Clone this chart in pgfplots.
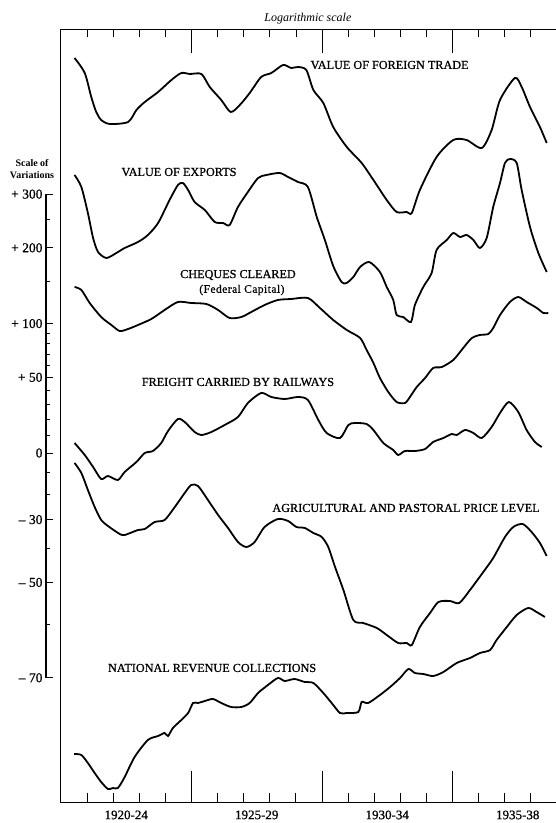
\documentclass[border=0pt]{standalone}
\usepackage{pgfplots}
\pgfplotsset{compat=1.18}
\usepackage{fontspec}
\setmainfont{Liberation Serif}

\newcommand\lab{\fontsize{12.2}{14}\selectfont\addfontfeature{FakeBold=0.8}}

\begin{document}
\begin{tikzpicture}
% page = reference frame: left border of the chart at x=0, bottom at y=0
\useasboundingbox (-61pt,-21pt) rectangle (494pt,802pt);

\begin{axis}[
  scale only axis, width=522pt, height=772pt,
  xmin=1920, xmax=1940, ymin=-349, ymax=423,
  clip=false,
  axis line style={line width=1pt},
  ytick=\empty,
  xtick pos=bottom,
  xtick={1925,1930,1935}, xticklabels={,,},
  minor xtick={1921,1922,1923,1924,1926,1927,1928,1929,1931,1932,1933,1934,1936,1937,1938,1939},
  tick align=inside,
  major tick length=31pt, minor tick length=9pt,
  every tick/.style={black, line width=0.8pt},
  extra x ticks={1922.5,1927.5,1932.5,1937.5},
  extra x tick labels={1920-24,1925-29,1930-34,1935-38},
  extra x tick style={major tick length=0pt},
  xticklabel style={font=\fontsize{13}{15}\selectfont\addfontfeature{FakeBold=0.8}, yshift=-5pt},
  curve/.style={black, line width=1.8pt, mark=none, smooth, tension=0.45},
]
% Value of foreign trade
\addplot[curve] coordinates {(1920.52,395) (1920.91,380) (1921.16,356) (1921.35,341) (1921.54,333) (1921.87,329) (1922.57,331) (1922.89,343) (1923.21,351) (1923.72,361) (1924.23,373) (1924.61,380) (1924.93,379) (1925.38,379) (1925.70,366) (1926.14,353) (1926.50,341) (1926.85,348) (1927.23,360) (1927.67,376) (1928.06,380) (1928.51,388) (1928.82,385) (1929.08,386) (1929.40,383) (1929.67,363) (1930.05,350) (1930.43,326) (1930.95,306) (1931.52,290) (1931.97,273) (1932.48,253) (1932.86,241) (1933.25,241) (1933.44,240) (1933.75,263) (1934.39,296) (1935.03,313) (1935.54,313) (1936.12,305) (1936.50,323) (1936.82,353) (1937.39,375) (1937.65,366) (1937.97,346) (1938.35,326) (1938.61,310)};
% Value of exports
\addplot[curve] coordinates {(1920.52,278) (1920.78,266) (1921.03,240) (1921.23,215) (1921.42,201) (1921.74,195) (1922.12,200) (1922.44,205) (1922.95,211) (1923.33,218) (1923.72,230) (1924.16,253) (1924.48,268) (1924.67,270) (1924.87,263) (1925.12,251) (1925.51,243) (1925.89,231) (1926.21,230) (1926.46,228) (1926.78,246) (1927.16,261) (1927.55,275) (1927.87,278) (1928.38,280) (1928.70,276) (1929.08,271) (1929.46,266) (1929.80,236) (1930.11,213) (1930.43,187) (1930.75,171) (1930.94,170) (1931.20,176) (1931.46,186) (1931.81,191) (1932.22,181) (1932.48,166) (1932.73,153) (1932.86,138) (1933.11,136) (1933.41,131) (1933.56,148) (1933.88,166) (1934.20,180) (1934.39,203) (1934.78,213) (1935.03,220) (1935.29,216) (1935.54,218) (1935.80,213) (1936.05,205) (1936.31,215) (1936.56,246) (1936.82,270) (1937.01,290) (1937.20,294) (1937.46,290) (1937.65,263) (1937.97,226) (1938.29,200) (1938.61,181)};
% Cheques cleared (Federal Capital)
\addplot[curve] coordinates {(1920.52,166) (1920.78,163) (1921.10,150) (1921.54,136) (1921.93,128) (1922.25,122) (1922.57,124) (1922.95,128) (1923.46,134) (1923.97,143) (1924.48,151) (1924.99,150) (1925.57,149) (1926.02,143) (1926.46,135) (1926.91,136) (1927.29,141) (1927.80,148) (1928.31,153) (1928.82,154) (1929.46,155) (1929.92,145) (1930.43,133) (1930.95,123) (1931.46,115) (1931.71,103) (1931.97,90) (1932.22,75) (1932.54,61) (1932.86,51) (1933.18,50) (1933.37,56) (1933.63,66) (1933.95,75) (1934.26,85) (1934.59,86) (1935.03,93) (1935.41,105) (1935.74,115) (1936.05,118) (1936.37,119) (1936.56,125) (1936.82,138) (1937.20,151) (1937.52,156) (1937.84,151) (1938.23,145) (1938.48,140) (1938.67,140)};
% Freight carried by railways
\addplot[curve] coordinates {(1920.52,10) (1920.91,-2) (1921.23,-14) (1921.54,-26) (1921.80,-23) (1922.18,-27) (1922.44,-19) (1922.89,-9) (1923.21,0) (1923.52,2) (1923.84,10) (1924.10,22) (1924.48,34) (1924.74,31) (1925.12,21) (1925.38,18) (1925.76,21) (1926.27,28) (1926.78,36) (1927.16,50) (1927.67,60) (1928.06,56) (1928.57,54) (1929.08,56) (1929.46,53) (1929.86,33) (1930.18,20) (1930.69,15) (1931.01,28) (1931.26,30) (1931.71,29) (1931.97,23) (1932.35,10) (1932.73,3) (1932.92,-2) (1933.18,2) (1933.56,2) (1933.95,4) (1934.26,11) (1934.65,15) (1934.97,19) (1935.16,18) (1935.48,23) (1935.80,20) (1936.12,15) (1936.50,26) (1936.82,40) (1937.16,51) (1937.52,41) (1937.84,23) (1938.16,11) (1938.42,6)};
% Agricultural and pastoral price level
\addplot[curve] coordinates {(1920.52,-10) (1920.78,-20) (1921.03,-37) (1921.29,-54) (1921.54,-67) (1921.80,-73) (1922.25,-81) (1922.44,-82) (1922.95,-77) (1923.21,-76) (1923.59,-69) (1923.97,-67) (1924.36,-54) (1924.74,-40) (1924.99,-32) (1925.25,-33) (1925.63,-47) (1926.02,-62) (1926.40,-75) (1926.78,-89) (1927.10,-94) (1927.42,-89) (1927.80,-74) (1928.31,-66) (1928.70,-68) (1929.02,-74) (1929.34,-75) (1929.67,-80) (1929.99,-84) (1930.24,-94) (1930.50,-114) (1930.82,-137) (1931.20,-167) (1931.58,-170) (1932.10,-175) (1932.48,-182) (1932.92,-190) (1933.25,-190) (1933.44,-192) (1933.75,-174) (1934.14,-160) (1934.46,-149) (1934.90,-148) (1935.26,-150) (1935.67,-137) (1936.18,-119) (1936.56,-105) (1937.01,-84) (1937.33,-74) (1937.69,-71) (1938.03,-79) (1938.35,-90) (1938.61,-103)};
% National revenue collections
\addplot[curve] coordinates {(1920.50,-301) (1920.78,-302) (1921.03,-310) (1921.29,-320) (1921.54,-329) (1921.80,-336) (1921.99,-335) (1922.18,-335) (1922.44,-324) (1922.82,-304) (1923.33,-287) (1923.72,-283) (1923.97,-280) (1924.10,-283) (1924.29,-275) (1924.61,-267) (1924.87,-260) (1925.06,-250) (1925.25,-250) (1925.51,-248) (1925.82,-246) (1926.14,-250) (1926.52,-254) (1926.91,-254) (1927.23,-250) (1927.55,-240) (1927.93,-232) (1928.31,-225) (1928.57,-228) (1928.95,-226) (1929.34,-229) (1929.67,-230) (1930.05,-240) (1930.37,-250) (1930.69,-260) (1930.95,-260) (1931.39,-259) (1931.52,-249) (1931.77,-250) (1932.22,-242) (1932.61,-234) (1932.99,-225) (1933.31,-216) (1933.56,-220) (1933.88,-221) (1934.26,-223) (1934.65,-219) (1935.16,-210) (1935.67,-205) (1936.05,-200) (1936.44,-197) (1936.69,-187) (1937.08,-174) (1937.46,-162) (1937.90,-155) (1938.22,-159) (1938.54,-164)};

\node at (axis cs:1932.59,388) {\lab VALUE OF FOREIGN TRADE};
\node at (axis cs:1924.52,281) {\lab VALUE OF EXPORTS};
\node at (axis cs:1926.78,178) {\lab CHEQUES CLEARED};
\node at (axis cs:1926.93,163) {\fontsize{11.5}{13}\selectfont\addfontfeature{LetterSpace=4,FakeBold=0.6}(Federal Capital)};
\node at (axis cs:1926.78,71) {\lab FREIGHT CARRIED BY RAILWAYS};
\node at (axis cs:1933.22,-55) {\lab AGRICULTURAL AND PASTORAL PRICE LEVEL};
\node at (axis cs:1925.79,-215) {\lab NATIONAL REVENUE COLLECTIONS};
\node at (axis cs:1929.46,434) {\fontsize{12}{14}\selectfont\itshape Logarithmic scale};
\node at (axis cs:1918.89,290) {\fontsize{10}{12}\selectfont\bfseries Scale of};
\node at (axis cs:1918.89,278) {\fontsize{10}{12}\selectfont\bfseries Variations};
\end{axis}

% shorter year ticks along the top edge
\begin{axis}[
  scale only axis, width=522pt, height=772pt,
  xmin=1920, xmax=1940, ymin=-349, ymax=423,
  hide y axis,
  axis x line*=top,
  axis line style={line width=1pt},
  xtick={1925,1930,1935}, xticklabels={,,},
  minor xtick={1921,1922,1923,1924,1926,1927,1928,1929,1931,1932,1933,1934,1936,1937,1938,1939},
  tick align=inside,
  major tick length=23pt, minor tick length=7pt,
  every tick/.style={black, line width=0.8pt},
]
\addplot[draw=none] coordinates {(1920,0) (1940,0)};
\end{axis}

% scale of variations (log), 0 at the same height as the main axis' 0
\begin{axis}[
  at={(-15pt,124.2pt)}, anchor=south west,
  scale only axis, width=1pt, height=483.7pt,
  xmin=0, xmax=1,
  ymode=log, ymin=0.3, ymax=4,
  hide x axis,
  axis y line*=left,
  axis line style={line width=1.4pt},
  ytick={0.3,0.5,0.7,1,1.5,2,3,4},
  yticklabels={{-- 70},{-- 50},{-- 30},0,{+ 50},{+ 100},{+ 200},{+ 300}},
  minor ytick={0.4,0.6,0.8,0.9,1.1,1.2,1.3,1.4,1.6,1.7,1.8,1.9,2.5,3.5},
  tick align=inside,
  major tick length=7pt, minor tick length=4pt,
  every tick/.style={black, line width=0.8pt},
  yticklabel style={font=\fontsize{13.5}{15}\selectfont\addfontfeature{FakeBold=0.8}},
]
\addplot[draw=none] coordinates {(0,0.3) (0,4)};
\end{axis}
\end{tikzpicture}
\end{document}
